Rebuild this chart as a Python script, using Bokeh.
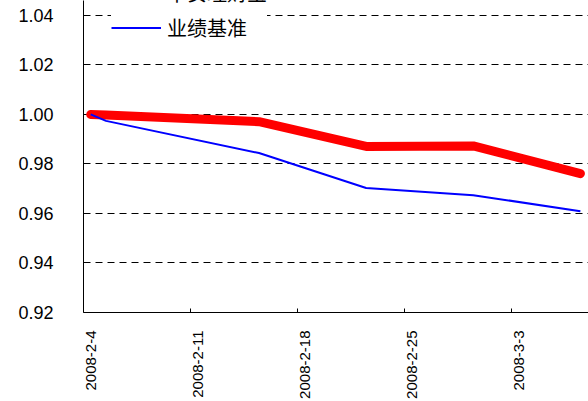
import numpy as np
import pandas as pd
from bokeh.plotting import figure
from bokeh.models import Range1d, FixedTicker, Legend, LegendItem, NumeralTickFormatter
from bokeh.embed import file_html
from bokeh.resources import INLINE

# ---- data ----
dates = ["2008-02-04", "2008-02-05", "2008-02-15", "2008-02-22", "2008-02-29", "2008-03-07"]
pingan = [1.0000, 0.9998, 0.9971, 0.9871, 0.9873, 0.9761]
benchmark = [1.0000, 0.9974, 0.9844, 0.9703, 0.9674, 0.9609]
series_names = ["平安理财宝", "业绩基准"]
x_tick_labels = ["2008-2-4", "2008-2-11", "2008-2-18", "2008-2-25", "2008-3-3"]
y_ticks = [0.92, 0.94, 0.96, 0.98, 1.00, 1.02, 1.04]

origin = pd.Timestamp("2008-02-04")
SLOT = 0.47  # points sit in the middle of each day's slot (date axis)


def day_index(s):
    return (pd.to_datetime(s) - origin).days


x = [day_index(d) + SLOT for d in dates]
tick_pos = [day_index(t) for t in x_tick_labels]
label_pos = [t + SLOT for t in tick_pos]

p = figure(width=588, height=401,
           x_range=Range1d(0, 33.0), y_range=Range1d(0.92, 1.04603),
           output_backend="svg", toolbar_location=None,
           min_border_left=83, min_border_right=0,
           min_border_top=0, min_border_bottom=88)
p.outline_line_color = None
p.background_fill_color = "white"
p.border_fill_color = "white"

r_red = p.line(x, pingan, color="#FF0000", line_width=9,
               line_cap="round", line_join="round")
r_blue = p.line(x, benchmark, color="#0000FF", line_width=2)

# y axis
yt = FixedTicker(ticks=y_ticks)
p.yaxis.ticker = yt
p.yaxis.formatter = NumeralTickFormatter(format="0.00")
p.yaxis.major_label_text_font = "Liberation Sans"
p.yaxis.major_label_text_font_size = "18px"
p.yaxis.major_label_text_color = "black"
p.yaxis.major_label_standoff = 30
p.yaxis.major_tick_in = 0
p.yaxis.major_tick_out = 0
p.yaxis.minor_tick_line_color = None
p.yaxis.axis_line_color = "black"

# x axis
p.xaxis.ticker = FixedTicker(ticks=label_pos, minor_ticks=tick_pos)
p.xaxis.major_label_overrides = {lp: lab for lp, lab in zip(label_pos, x_tick_labels)}
p.xaxis.major_tick_line_color = None
p.xaxis.minor_tick_line_color = "black"
p.xaxis.minor_tick_in = 4
p.xaxis.minor_tick_out = 0
p.xaxis.major_label_orientation = np.pi / 2
p.xaxis.major_label_text_font = "Liberation Sans"
p.xaxis.major_label_text_font_size = "15px"
p.xaxis.major_label_text_color = "black"
p.xaxis.major_label_standoff = 12
p.xaxis.axis_line_color = "black"

# grid
p.xgrid.visible = False
p.ygrid.ticker = yt
p.ygrid.grid_line_color = "black"
p.ygrid.grid_line_dash = "7 5"
p.ygrid.grid_line_width = 1

legend = Legend(items=[LegendItem(label=series_names[0], renderers=[r_red]),
                       LegendItem(label=series_names[1], renderers=[r_blue])],
                location=(28, 270.5), padding=10, spacing=6, margin=0,
                glyph_width=50, glyph_height=27, label_height=27, label_standoff=6,
                label_text_font="Noto Sans CJK SC", label_text_font_size="20px",
                label_text_color="black",
                border_line_color=None, background_fill_color="white",
                background_fill_alpha=1.0)
p.add_layout(legend)

open("out.html", "w").write(file_html(p, INLINE))
